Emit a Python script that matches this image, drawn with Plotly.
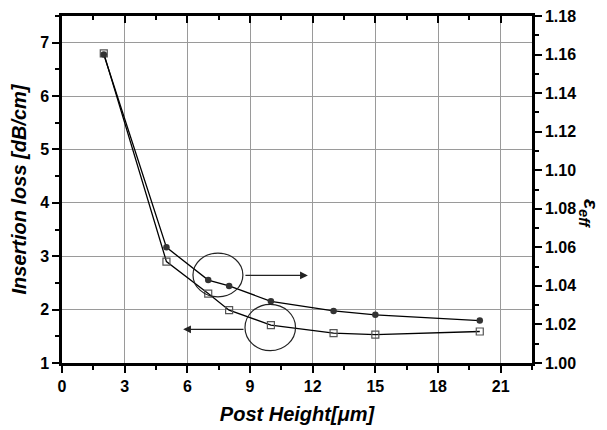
import plotly.graph_objects as go

# Data
post_height = [2, 5, 7, 8, 10, 13, 15, 20]
insertion_loss = [6.80, 2.90, 2.30, 1.99, 1.71, 1.56, 1.53, 1.59]
eps_eff = [1.160, 1.060, 1.043, 1.040, 1.032, 1.027, 1.025, 1.022]

x_range = [0, 22.5]
y_left_range = [1, 7.5]
y_right_range = [1.0, 1.18]

FONT = "Liberation Sans, Arial, sans-serif"

fig = go.Figure()

fig.add_trace(go.Scatter(
    x=post_height, y=insertion_loss, mode="lines+markers",
    line=dict(color="black", width=1.3),
    marker=dict(symbol="square-open", size=7, color="#555555", line=dict(width=1.2, color="#555555")),
    showlegend=False, xaxis="x", yaxis="y"))

fig.add_trace(go.Scatter(
    x=post_height, y=eps_eff, mode="lines+markers",
    line=dict(color="black", width=1.3),
    marker=dict(symbol="circle", size=6.5, color="#333333"),
    showlegend=False, xaxis="x", yaxis="y2"))

# invisible trace to anchor the top mirror axis
fig.add_trace(go.Scatter(
    x=post_height, y=insertion_loss, mode="markers",
    marker=dict(opacity=0), hoverinfo="skip",
    showlegend=False, xaxis="x2", yaxis="y"))

tickfont = dict(family=FONT, size=16, color="black", weight="bold")
titlefont = dict(family=FONT, size=20, color="black", weight="bold", style="italic")

# the page body has an 8px margin, so the figure is sized to fit inside the window
fig.update_layout(
    width=599, height=422,
    margin=dict(l=54, r=75, t=8, b=67),
    paper_bgcolor="white", plot_bgcolor="white",
    xaxis=dict(
        range=x_range, dtick=3, tick0=0, automargin=False,
        showline=True, linecolor="black", linewidth=2.5,
        ticks="outside", ticklen=7, tickwidth=2, tickcolor="black",
        minor=dict(ticks="outside", ticklen=4, tickwidth=2, tickcolor="black", dtick=1.5, showgrid=False),
        showgrid=True, gridcolor="#9a9a9a", gridwidth=1,
        zeroline=False, tickfont=tickfont,
        title=dict(text="Post Height[<i>μ</i>m]", font=titlefont, standoff=14),
    ),
    xaxis2=dict(
        range=x_range, dtick=3, tick0=0, overlaying="x", side="top", anchor="y", automargin=False,
        showline=True, linecolor="black", linewidth=2.5,
        ticks="inside", ticklen=7, tickwidth=2, tickcolor="black",
        minor=dict(ticks="inside", ticklen=4, tickwidth=2, tickcolor="black", dtick=1.5, showgrid=False),
        showticklabels=False, showgrid=False, zeroline=False,
    ),
    yaxis=dict(
        range=y_left_range, dtick=1, tick0=1, automargin=False,
        showline=True, linecolor="black", linewidth=2.5,
        ticks="outside", ticklen=7, tickwidth=2, tickcolor="black",
        minor=dict(ticks="outside", ticklen=4, tickwidth=2, tickcolor="black", dtick=0.5, showgrid=False),
        showgrid=True, gridcolor="#9a9a9a", gridwidth=1,
        zeroline=False, tickfont=tickfont,
        title=dict(text="Insertion loss [dB/cm]", font=titlefont, standoff=10),
    ),
    yaxis2=dict(
        range=y_right_range, dtick=0.02, tick0=1.0, tickformat=".2f", automargin=False,
        overlaying="y", side="right", anchor="x", ticklabeloverflow="allow",
        showline=True, linecolor="black", linewidth=2.5,
        ticks="outside", ticklen=7, tickwidth=2, tickcolor="black",
        minor=dict(ticks="outside", ticklen=4, tickwidth=2, tickcolor="black", dtick=0.01, showgrid=False),
        showgrid=False, zeroline=False, tickfont=tickfont,
    ),
)

# right axis title (rotated clockwise)
fig.add_annotation(
    text="<b><i>ε</i></b><sub><b><i>eff</i></b></sub>", textangle=90,
    xref="paper", yref="paper", x=1.123, y=0.43,
    xanchor="center", yanchor="middle", showarrow=False,
    font=dict(family=FONT, size=21, color="black"))

# circles marking the series
fig.add_shape(type="circle", xref="x", yref="y",
              x0=6.27, x1=8.66, y0=2.24, y1=3.06,
              line=dict(color="#222222", width=1.2))
fig.add_shape(type="circle", xref="x", yref="y",
              x0=8.76, x1=11.18, y0=1.23, y1=2.10,
              line=dict(color="#222222", width=1.2))

# arrows
fig.add_annotation(x=11.77, y=2.64, ax=8.71, ay=2.64,
                   xref="x", yref="y", axref="x", ayref="y",
                   text="", showarrow=True, arrowhead=2, arrowsize=1.3,
                   arrowwidth=1.2, arrowcolor="#222222")
fig.add_annotation(x=5.80, y=1.63, ax=8.76, ay=1.63,
                   xref="x", yref="y", axref="x", ayref="y",
                   text="", showarrow=True, arrowhead=2, arrowsize=1.3,
                   arrowwidth=1.2, arrowcolor="#222222")

fig.write_html("out.html")
